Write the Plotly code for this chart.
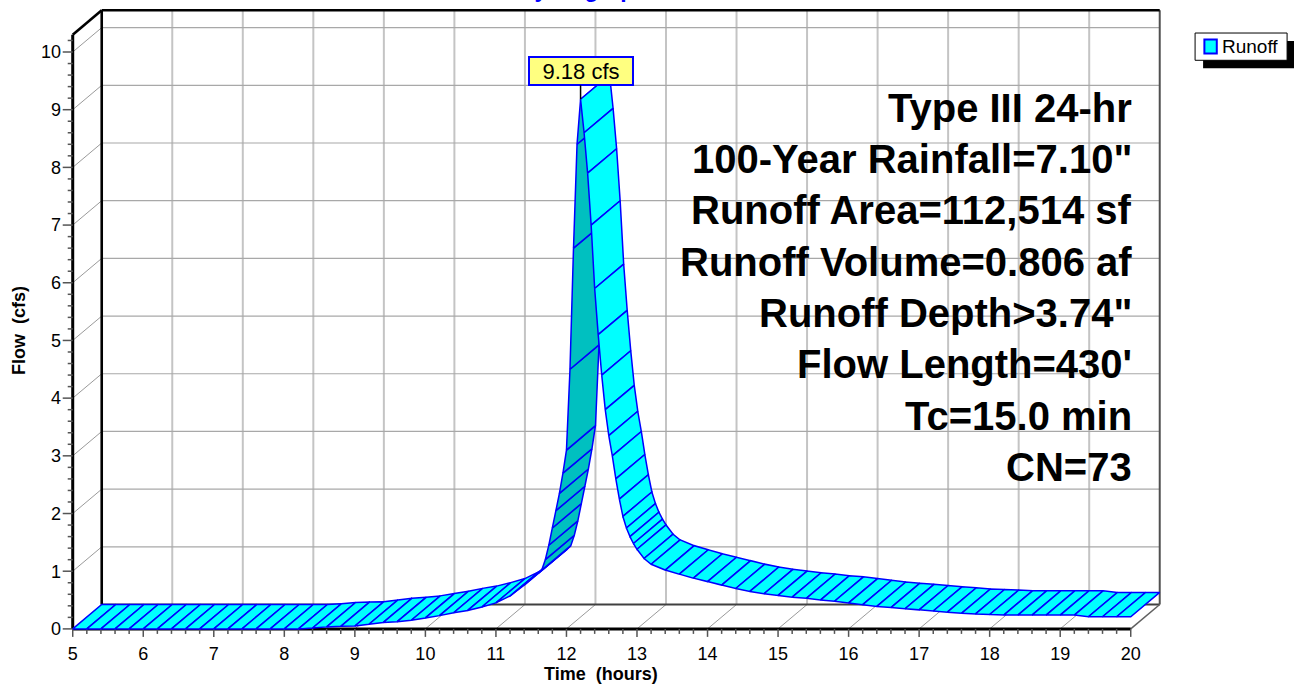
import numpy as np
import plotly.graph_objects as go

# ---------------- data ----------------
time_hr = [5.0, 5.2, 5.4, 5.6, 5.8, 6.0, 6.2, 6.4, 6.6, 6.8, 7.0, 7.2, 7.4, 7.6, 7.8, 8.0, 8.2,
           8.4, 8.6, 8.8, 9.0, 9.2, 9.4, 9.6, 9.8, 10.0, 10.2, 10.4, 10.6, 10.8, 11.0, 11.2, 11.4, 11.6,
           11.65, 11.7, 11.75, 11.8, 11.85, 11.9, 11.95, 12.0, 12.05, 12.1, 12.15, 12.2,
           12.25, 12.3, 12.35, 12.4, 12.45, 12.5, 12.55, 12.6, 12.65, 12.7, 12.75, 12.8, 12.85, 12.9,
           12.95, 13.0, 13.1, 13.2,
           13.4, 13.6, 13.8, 14.0, 14.2, 14.4, 14.6, 14.8, 15.0, 15.2, 15.4, 15.6, 15.8, 16.0,
           16.2, 16.4, 16.6, 16.8, 17.0, 17.2, 17.4, 17.6, 17.8, 18.0, 18.2, 18.4, 18.6, 18.8,
           19.0, 19.2, 19.4, 19.6, 19.8, 20.0]
flow_cfs = [0.0, 0.0, 0.0, 0.0, 0.0, 0.0, 0.0, 0.0, 0.0, 0.0, 0.0, 0.0, 0.0, 0.0, 0.0, 0.0, 0.0,
            0.015, 0.035, 0.045, 0.05, 0.08, 0.11, 0.125, 0.15, 0.19, 0.23, 0.28, 0.32, 0.38, 0.45, 0.57, 0.76, 0.96,
            1.02, 1.2, 1.45, 1.75, 2.05, 2.35, 2.7, 3.1, 4.5, 6.6, 8.4, 9.18,
            8.6, 7.9, 7.0, 5.9, 5.1, 4.4, 3.8, 3.35, 3.0, 2.6, 2.25, 1.95, 1.75, 1.6,
            1.48, 1.38, 1.22, 1.12,
            1.02, 0.95, 0.88, 0.82, 0.76, 0.70, 0.65, 0.61, 0.58, 0.55, 0.53, 0.50, 0.48, 0.45,
            0.42, 0.39, 0.37, 0.35, 0.33, 0.31, 0.29, 0.27, 0.26, 0.25, 0.24, 0.24, 0.24, 0.24,
            0.24, 0.24, 0.21, 0.21, 0.21, 0.21]
series_name = "Runoff"
x_ticks = [5, 6, 7, 8, 9, 10, 11, 12, 13, 14, 15, 16, 17, 18, 19, 20]
y_ticks = [0, 1, 2, 3, 4, 5, 6, 7, 8, 9, 10]
info_lines = ["Type III 24-hr", "100-Year Rainfall=7.10\"", "Runoff Area=112,514 sf",
              "Runoff Volume=0.806 af", "Runoff Depth>3.74\"", "Flow Length=430'",
              "Tc=15.0 min", "CN=73"]
chart_title = "Hydrograph"
x_title = "Time\u00a0 (hours)"
y_title = "Flow\u00a0 (cfs)"
peak_unit = "cfs"

# ---------------- layout geometry ----------------
W, H = 1294, 685
PX_PER_HR = 70.53
PX_PER_CFS = 57.76
ORIGIN_PX = (72.7, 629.3)          # pixel of (5 h, 0 cfs) on the front plane
DX = 29.0 / PX_PER_HR              # 3-D depth offset, in data units
DY = 24.4 / PX_PER_CFS
Y_TOP = 10.3                       # top of the front wall
X0 = x_ticks[0]
X1 = x_ticks[-1]
X_RANGE = [4.848, 20.5]
Y_RANGE = [-0.175, 10.78]

ml = ORIGIN_PX[0] - (X0 - X_RANGE[0]) * PX_PER_HR
plot_w = (X_RANGE[1] - X_RANGE[0]) * PX_PER_HR
mr = W - ml - plot_w
mb = H - (ORIGIN_PX[1] + (0 - Y_RANGE[0]) * PX_PER_CFS)
plot_h = (Y_RANGE[1] - Y_RANGE[0]) * PX_PER_CFS
mt = H - mb - plot_h


def px_x(px):
    return X0 + (px - ORIGIN_PX[0]) / PX_PER_HR


def px_y(py):
    return (ORIGIN_PX[1] - py) / PX_PER_CFS


def paper_x(px):
    return (px - ml) / plot_w


def paper_y(py):
    return (H - mb - py) / plot_h


FONT = "Liberation Sans, Arial, sans-serif"
LIGHT = "#00ffff"
DARK = "#00c0c0"
EDGE = "#0000ff"

fig = go.Figure()


def add_segments(segs, color, width):
    xs, ys = [], []
    for (xa, ya), (xb, yb) in segs:
        xs += [xa, xb, None]
        ys += [ya, yb, None]
    fig.add_trace(go.Scatter(x=xs, y=ys, mode="lines", line=dict(color=color, width=width),
                             hoverinfo="skip", showlegend=False))


# back wall grid
add_segments([((t + DX, DY), (t + DX, Y_TOP + DY)) for t in x_ticks[1:-1]], "#c4c4c4", 2)
add_segments([((X0 + DX, v + DY), (X1 + DX, v + DY)) for v in y_ticks[1:]], "#a8a8a8", 1.2)
# floor and side wall diagonals
add_segments([((t, 0), (t + DX, DY)) for t in x_ticks[1:-1]], "#9a9a9a", 1)
add_segments([((X0, v), (X0 + DX, v + DY)) for v in y_ticks[1:]], "#9a9a9a", 1)
# back box edges
add_segments([((X0 + DX, DY), (X1 + DX, DY))], "#404040", 2)
add_segments([((X1 + DX, DY), (X1 + DX, Y_TOP + DY))], "#505050", 2)
add_segments([((X1, 0), (X1 + DX, DY))], "#606060", 1.5)
add_segments([((X0 + DX, DY), (X0 + DX, Y_TOP + DY)),
              ((X0 + DX, Y_TOP + DY), (X1 + DX, Y_TOP + DY)),
              ((X0, Y_TOP), (X0 + DX, Y_TOP + DY))], "black", 2.6)
# front axes
add_segments([((X0, 0), (X0, Y_TOP)), ((X0, 0), (X1, 0))], "black", 3)
# ticks
maj_x = 8 / PX_PER_CFS
min_x = 5 / PX_PER_CFS
maj_y = 10 / PX_PER_HR
min_y = 5 / PX_PER_HR
x_minor = [v for v in np.round(np.arange(X0, X1 + 0.01, 0.2), 1) if abs(v - round(v)) > 1e-6]
y_minor = [v for v in np.round(np.arange(0, Y_TOP - 0.05, 0.2), 1) if abs(v - round(v)) > 1e-6]
add_segments([((t, 0), (t, -maj_x)) for t in x_ticks] +
             [((t, 0), (t, -min_x)) for t in x_minor] +
             [((X0, v), (X0 - maj_y, v)) for v in y_ticks] +
             [((X0, v), (X0 - min_y, v)) for v in y_minor], "#555555", 1.5)

# ribbon (front edge = hydrograph, back edge = offset copy)
t_arr = np.array(time_hr)
q_arr = np.array(flow_cfs)
slope_limit = DY / DX
for i in range(len(t_arr) - 1):
    xs = [t_arr[i], t_arr[i + 1], t_arr[i + 1] + DX, t_arr[i] + DX, t_arr[i]]
    ys = [q_arr[i], q_arr[i + 1], q_arr[i + 1] + DY, q_arr[i] + DY, q_arr[i]]
    steep = (q_arr[i + 1] - q_arr[i]) / (t_arr[i + 1] - t_arr[i]) > slope_limit
    fig.add_trace(go.Scatter(x=xs, y=ys, mode="lines", fill="toself",
                             fillcolor=DARK if steep else LIGHT,
                             line=dict(color=EDGE, width=1.5),
                             hoverinfo="skip", showlegend=False, name=series_name))

annotations = []
# peak label
ipk = int(np.argmax(q_arr))
annotations.append(dict(x=t_arr[ipk], y=q_arr[ipk], xref="x", yref="y",
                        text=f"{q_arr[ipk]:.2f} {peak_unit}", showarrow=True,
                        arrowhead=0, arrowwidth=1.5, arrowcolor="black", ax=0, ay=-28,
                        bgcolor="#ffff80", bordercolor=EDGE, borderwidth=2, borderpad=1,
                        width=100, height=24, font=dict(family=FONT, size=22, color="black")))
# info block
for i, line in enumerate(info_lines):
    annotations.append(dict(x=px_x(1133.5), y=px_y(107.5 + i * 51.4), xref="x", yref="y",
                            xanchor="right", yanchor="middle", showarrow=False,
                            text=f"<b>{line}</b>",
                            font=dict(family=FONT, size=40, color="black")))
# axis titles
annotations.append(dict(x=paper_x(601), y=paper_y(674.5), xref="paper", yref="paper",
                        xanchor="center", yanchor="middle", showarrow=False,
                        text=f"<b>{x_title}</b>", font=dict(family=FONT, size=18, color="black")))
annotations.append(dict(x=paper_x(19), y=paper_y(331), xref="paper", yref="paper",
                        xanchor="center", yanchor="middle", showarrow=False, textangle=-90,
                        text=f"<b>{y_title}</b>", font=dict(family=FONT, size=18, color="black")))
# chart title (mostly above the visible page)
annotations.append(dict(x=paper_x(583), y=paper_y(3.8), xref="paper", yref="paper",
                        xanchor="center", yanchor="bottom", showarrow=False,
                        text=f"<b>{chart_title}</b>", font=dict(family=FONT, size=23, color="#0000ff")))
# legend label
annotations.append(dict(x=paper_x(1220), y=paper_y(46), xref="paper", yref="paper",
                        xanchor="left", yanchor="middle", showarrow=False,
                        text=series_name, font=dict(family=FONT, size=19, color="black")))

shapes = [
    dict(type="rect", xref="paper", yref="paper", x0=paper_x(1203), x1=paper_x(1300),
         y0=paper_y(68), y1=paper_y(40.7), fillcolor="black", line=dict(width=0), layer="above"),
    dict(type="rect", xref="paper", yref="paper", x0=paper_x(1195), x1=paper_x(1287),
         y0=paper_y(60), y1=paper_y(32.7), fillcolor="white", line=dict(color="black", width=1),
         layer="above"),
    dict(type="rect", xref="paper", yref="paper", x0=paper_x(1204.3), x1=paper_x(1216.7),
         y0=paper_y(53.3), y1=paper_y(39.3), fillcolor=LIGHT, line=dict(color=EDGE, width=2),
         layer="above"),
]

fig.update_layout(
    width=W, height=H,
    margin=dict(l=ml, r=mr, t=mt, b=mb, autoexpand=False),
    paper_bgcolor="white", plot_bgcolor="white",
    showlegend=False,
    xaxis=dict(range=X_RANGE, tickvals=x_ticks, ticks="", showline=False, showgrid=False,
               zeroline=False, ticklabelstandoff=2,
               tickfont=dict(family=FONT, size=18, color="black")),
    yaxis=dict(range=Y_RANGE, tickvals=y_ticks, ticks="", showline=False, showgrid=False,
               zeroline=False, ticklabelstandoff=0,
               tickfont=dict(family=FONT, size=18, color="black")),
    annotations=annotations,
    shapes=shapes,
)

fig.write_html("out.html", config={"displayModeBar": False},
               post_script="document.body.style.margin='0';document.body.style.overflow='hidden';")
